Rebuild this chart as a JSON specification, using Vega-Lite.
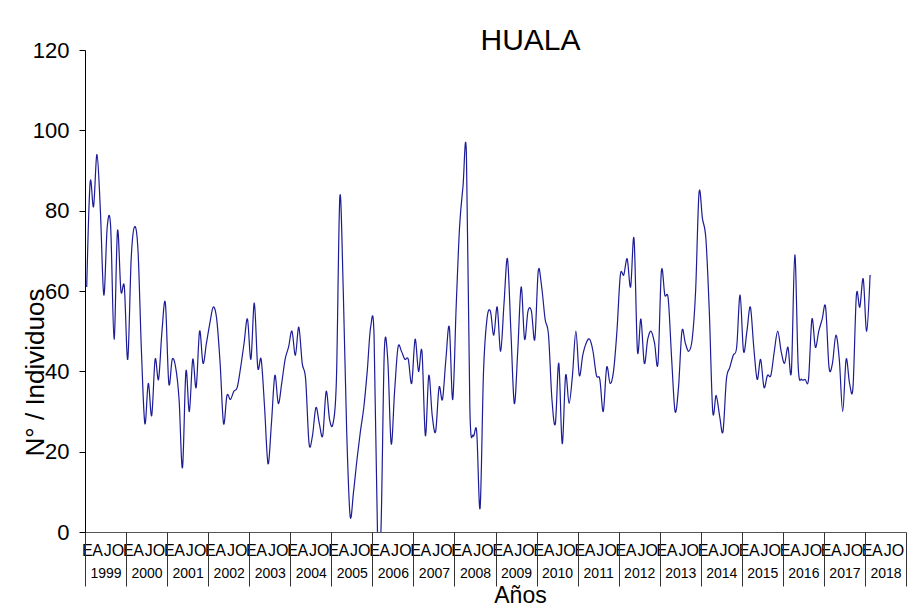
{
  "$schema": "https://vega.github.io/schema/vega-lite/v6.json",
  "width": 821,
  "height": 482,
  "autosize": {"type": "none"},
  "padding": {"left": 85, "top": 50, "right": 2, "bottom": 75},
  "background": "white",
  "title": {"text": "HUALA", "fontSize": 30, "fontWeight": "normal", "font": "Liberation Sans", "color": "#000", "anchor": "middle", "dx": 35, "dy": 42, "baseline": "alphabetic", "offset": 1},
  "config": {"view": {"stroke": null}, "axis": {"grid": false}, "font": "Liberation Sans"},
  "data": {"values": [
    {"m":0,"n":61},{"m":1,"n":87},{"m":2,"n":81},{"m":3,"n":94},{"m":4,"n":80},{"m":5,"n":59},{"m":6,"n":76},{"m":7,"n":76},{"m":8,"n":48},{"m":9,"n":75},{"m":10,"n":60},{"m":11,"n":61},
    {"m":12,"n":43},{"m":13,"n":68},{"m":14,"n":76},{"m":15,"n":70},{"m":16,"n":45},{"m":17,"n":27},{"m":18,"n":37},{"m":19,"n":29},{"m":20,"n":43},{"m":21,"n":38},{"m":22,"n":50},{"m":23,"n":57},
    {"m":24,"n":37},{"m":25,"n":43},{"m":26,"n":41},{"m":27,"n":33},{"m":28,"n":16},{"m":29,"n":40},{"m":30,"n":30},{"m":31,"n":43},{"m":32,"n":36},{"m":33,"n":50},{"m":34,"n":42},{"m":35,"n":47},
    {"m":36,"n":52},{"m":37,"n":56},{"m":38,"n":53},{"m":39,"n":42},{"m":40,"n":27},{"m":41,"n":34},{"m":42,"n":33},{"m":43,"n":35},{"m":44,"n":36},{"m":45,"n":41},{"m":46,"n":47},{"m":47,"n":53},
    {"m":48,"n":43},{"m":49,"n":57},{"m":50,"n":41},{"m":51,"n":43},{"m":52,"n":31},{"m":53,"n":17},{"m":54,"n":27},{"m":55,"n":39},{"m":56,"n":32},{"m":57,"n":37},{"m":58,"n":43},{"m":59,"n":46},
    {"m":60,"n":50},{"m":61,"n":44},{"m":62,"n":51},{"m":63,"n":42},{"m":64,"n":38},{"m":65,"n":22},{"m":66,"n":24},{"m":67,"n":31},{"m":68,"n":27},{"m":69,"n":24},{"m":70,"n":35},{"m":71,"n":28},
    {"m":72,"n":27},{"m":73,"n":38},{"m":74,"n":83.5},{"m":75,"n":60},{"m":76,"n":25},{"m":77,"n":4},{"m":78,"n":10},{"m":79,"n":18},{"m":80,"n":25},{"m":81,"n":31},{"m":82,"n":40},{"m":83,"n":51},
    {"m":84,"n":49},{"m":85,"n":0},{"m":86,"n":0},{"m":87,"n":45},{"m":88,"n":43},{"m":89,"n":22},{"m":90,"n":35},{"m":91,"n":46},{"m":92,"n":45},{"m":93,"n":43},{"m":94,"n":43},{"m":95,"n":37},
    {"m":96,"n":48},{"m":97,"n":40},{"m":98,"n":45},{"m":99,"n":24},{"m":100,"n":39},{"m":101,"n":29},{"m":102,"n":25},{"m":103,"n":36},{"m":104,"n":33},{"m":105,"n":43},{"m":106,"n":51},{"m":107,"n":33},
    {"m":108,"n":56},{"m":109,"n":76},{"m":110,"n":86},{"m":111,"n":94},{"m":112,"n":31},{"m":113,"n":24},{"m":114,"n":25},{"m":115,"n":6},{"m":116,"n":40},{"m":117,"n":53},{"m":118,"n":55},{"m":119,"n":49},
    {"m":120,"n":56},{"m":121,"n":45},{"m":122,"n":57},{"m":123,"n":68},{"m":124,"n":50},{"m":125,"n":32},{"m":126,"n":45},{"m":127,"n":61},{"m":128,"n":48},{"m":129,"n":55},{"m":130,"n":55},{"m":131,"n":48},
    {"m":132,"n":65},{"m":133,"n":61},{"m":134,"n":53},{"m":135,"n":49},{"m":136,"n":33},{"m":137,"n":27},{"m":138,"n":42},{"m":139,"n":22},{"m":140,"n":39},{"m":141,"n":32},{"m":142,"n":39},{"m":143,"n":50},
    {"m":144,"n":39},{"m":145,"n":44},{"m":146,"n":47},{"m":147,"n":48},{"m":148,"n":45},{"m":149,"n":39},{"m":150,"n":38},{"m":151,"n":30},{"m":152,"n":41},{"m":153,"n":37},{"m":154,"n":40},{"m":155,"n":50},
    {"m":156,"n":64},{"m":157,"n":64},{"m":158,"n":68},{"m":159,"n":61},{"m":160,"n":73},{"m":161,"n":45},{"m":162,"n":53},{"m":163,"n":42},{"m":164,"n":48},{"m":165,"n":50},{"m":166,"n":47},{"m":167,"n":42},
    {"m":168,"n":65},{"m":169,"n":59},{"m":170,"n":58},{"m":171,"n":43},{"m":172,"n":30},{"m":173,"n":36},{"m":174,"n":50},{"m":175,"n":47},{"m":176,"n":45},{"m":177,"n":48},{"m":178,"n":60},{"m":179,"n":84.5},
    {"m":180,"n":78},{"m":181,"n":73},{"m":182,"n":55},{"m":183,"n":30},{"m":184,"n":34},{"m":185,"n":29},{"m":186,"n":25},{"m":187,"n":38},{"m":188,"n":41},{"m":189,"n":44},{"m":190,"n":46},{"m":191,"n":59},
    {"m":192,"n":45},{"m":193,"n":50},{"m":194,"n":56},{"m":195,"n":46},{"m":196,"n":38},{"m":197,"n":43},{"m":198,"n":36},{"m":199,"n":39},{"m":200,"n":39},{"m":201,"n":45},{"m":202,"n":50},{"m":203,"n":45},
    {"m":204,"n":42},{"m":205,"n":46},{"m":206,"n":40},{"m":207,"n":69},{"m":208,"n":41},{"m":209,"n":38},{"m":210,"n":38},{"m":211,"n":38},{"m":212,"n":53},{"m":213,"n":46},{"m":214,"n":50},{"m":215,"n":53},
    {"m":216,"n":56},{"m":217,"n":41},{"m":218,"n":42},{"m":219,"n":49},{"m":220,"n":43},{"m":221,"n":30},{"m":222,"n":43},{"m":223,"n":37},{"m":224,"n":36},{"m":225,"n":59},{"m":226,"n":56},{"m":227,"n":63},
    {"m":228,"n":50},{"m":229,"n":64}
  ]},
  "resolve": {"axis": {"x": "independent"}},
  "layer": [
    {
      "mark": {"type": "line", "interpolate": "cardinal", "color": "#1c1c96", "strokeWidth": 1.2, "clip": true},
      "encoding": {
        "x": {"field": "m", "type": "quantitative", "scale": {"domain": [-0.5, 239.5], "nice": false, "zero": false},
          "axis": {"orient": "bottom", "title": null, "values": [0,3,6,9,12,15,18,21,24,27,30,33,36,39,42,45,48,51,54,57,60,63,66,69,72,75,78,81,84,87,90,93,96,99,102,105,108,111,114,117,120,123,126,129,132,135,138,141,144,147,150,153,156,159,162,165,168,171,174,177,180,183,186,189,192,195,198,201,204,207,210,213,216,219,222,225,228,231,234,237],
            "labelExpr": "['E','A','J','O'][round(datum.value/3)%4]", "ticks": false, "tickSize": 0, "labelPadding": 10, "labelFontSize": 16, "labelColor": "#000", "labelOverlap": false, "labelFlush": false, "labelBound": false, "domainColor": "#555", "domainWidth": 1}},
        "y": {"field": "n", "type": "quantitative", "scale": {"domain": [0, 120], "nice": false},
          "axis": {"values": [0,20,40,60,80,100,120], "labelFontSize": 22, "labelColor": "#000", "tickSize": 6, "tickColor": "#000", "domainColor": "#000", "labelPadding": 10,
            "title": "N° / Individuos", "titleFontSize": 26, "titleFontWeight": "normal", "titleColor": "#000", "titleX": -50, "titleY": 322, "titleAngle": -90, "titleAlign": "center", "titleBaseline": "middle"}}
      }
    },
    {
      "mark": {"type": "point", "opacity": 0},
      "encoding": {
        "x": {"field": "m", "type": "quantitative", "scale": {"domain": [-0.5, 239.5], "nice": false, "zero": false},
          "axis": {"orient": "bottom", "title": null, "values": [-0.5,11.5,23.5,35.5,47.5,59.5,71.5,83.5,95.5,107.5,119.5,131.5,143.5,155.5,167.5,179.5,191.5,203.5,215.5,227.5,239.5],
            "labels": false, "domain": false, "ticks": true, "tickSize": 54, "tickColor": "#333", "tickWidth": 1}}
      }
    },
    {
      "mark": {"type": "point", "opacity": 0},
      "encoding": {
        "x": {"field": "m", "type": "quantitative", "scale": {"domain": [-0.5, 239.5], "nice": false, "zero": false},
          "axis": {"orient": "bottom", "values": [5.5,17.5,29.5,41.5,53.5,65.5,77.5,89.5,101.5,113.5,125.5,137.5,149.5,161.5,173.5,185.5,197.5,209.5,221.5,233.5],
            "labelExpr": "1999 + floor(datum.value/12)", "ticks": false, "tickSize": 0, "domain": false, "labelPadding": 34, "labelFontSize": 14, "labelColor": "#000", "labelOverlap": false, "labelFlush": false, "labelBound": false,
            "title": "Años", "titleFontSize": 23, "titleFontWeight": "normal", "titleColor": "#000", "titleX": 435, "titleY": 70, "titleBaseline": "alphabetic", "titleAlign": "center"}}
      }
    }
  ]
}
